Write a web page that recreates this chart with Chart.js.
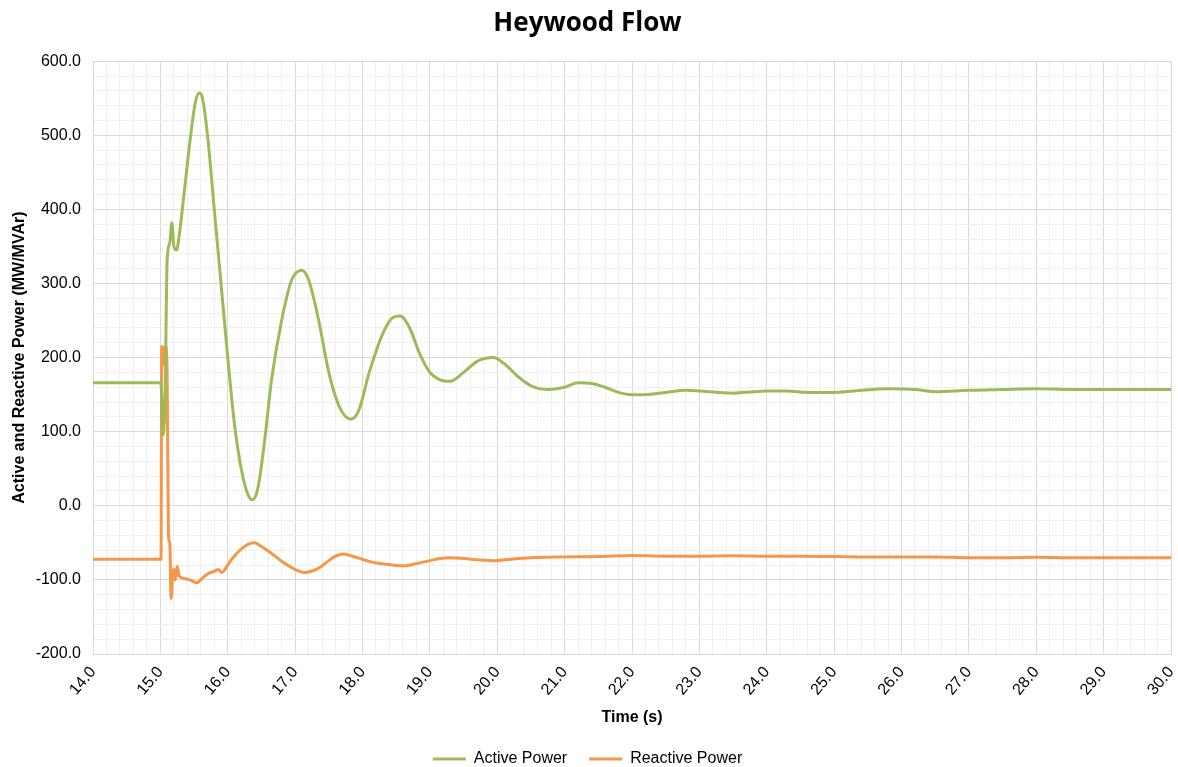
<!DOCTYPE html>
<html>
<head>
<meta charset="utf-8">
<script src="https://cdn.jsdelivr.net/npm/chart.js@4.4.0/dist/chart.umd.min.js"></script>
<style>
    body { margin: 0; background: #fff; }
    #wrap { width: 1178px; height: 767px; }
</style>
</head>
<body>
<div id="wrap"><canvas id="flowChart"></canvas></div>
<script>
// Heywood interconnector flow
var activeTime = [14.0, 14.5, 15.0, 15.02, 15.04, 15.07, 15.10, 15.14, 15.17, 15.20, 15.24, 15.28, 15.35, 15.45, 15.52, 15.58, 15.62, 15.70, 15.80, 15.90, 16.0,
    16.10, 16.20, 16.30, 16.37, 16.45, 16.55, 16.65, 16.80, 16.95, 17.10, 17.20, 17.35, 17.50, 17.65, 17.83, 17.95, 18.10, 18.30, 18.45, 18.56,
    18.70, 18.85, 19.0, 19.15, 19.30, 19.50, 19.70, 19.94, 20.10, 20.30, 20.50, 20.74, 21.0, 21.2, 21.4, 21.6, 21.8, 22.0, 22.2, 22.5, 22.8,
    23.0, 23.3, 23.5, 23.8, 24.0, 24.3, 24.6, 25.0, 25.3, 25.8, 26.2, 26.5, 27.0, 27.5, 28.0, 28.5, 29.0, 29.5, 30.0];
var activePower = [166, 166, 166, 150, 95, 150, 330, 355, 382, 350, 345, 365, 420, 500, 545, 557, 552, 500, 400, 300, 200,
    110, 50, 15, 8, 25, 90, 170, 250, 305, 318, 305, 250, 180, 135, 117, 130, 180, 232, 254, 256,
    240, 205, 180, 170, 168, 180, 195, 200, 192, 175, 162, 157, 160, 166, 165, 160, 153, 150, 150, 153, 156,
    155, 153, 152, 154, 155, 155, 153, 153, 155, 158, 157, 154, 156, 157, 158, 157, 157, 157, 157];

var reactiveTime = [14.0, 14.5, 15.0, 15.01, 15.02, 15.04, 15.06, 15.08, 15.10, 15.12, 15.14, 15.16, 15.18, 15.20, 15.22, 15.25, 15.28, 15.35, 15.44, 15.54,
    15.62, 15.70, 15.81, 15.86, 15.91, 16.0, 16.06, 16.18, 16.30, 16.40, 16.50, 16.63, 16.85, 17.0, 17.15, 17.25, 17.37, 17.50, 17.6, 17.71,
    17.85, 17.96, 18.1, 18.26, 18.45, 18.63, 18.8, 19.0, 19.15, 19.3, 19.5, 19.74, 19.97, 20.2, 20.49, 20.93, 21.5, 22.0, 22.5, 23.0,
    23.5, 24.0, 24.5, 25.0, 25.5, 26.0, 26.5, 27.0, 27.5, 28.0, 28.5, 29.0, 29.5, 30.0];
var reactivePower = [-72, -72, -72, -72, 215, 212, 190, 215, 180, -40, -50, -125, -95, -85, -100, -82, -95, -98, -100, -104,
    -98, -92, -88, -86, -90, -80, -72, -60, -52, -50, -55, -63, -78, -86, -90, -88, -83, -74, -68, -65,
    -68, -71, -75, -78, -80, -81, -78, -74, -71, -70, -71, -73, -74, -72, -70, -69, -68.5, -67, -68, -68,
    -67.5, -68, -68, -68.5, -69, -69, -69, -70, -70, -69.5, -70, -70, -70, -70];

var xMin = 14, xMax = 30;
var yMin = -200, yMax = 600;

function pairs(xs, ys) {
    return xs.map(function (x, i) { return { x: x, y: ys[i] }; });
}
function isWhole(v, step) {
    return Math.abs(v / step - Math.round(v / step)) < 1e-6;
}

var axisFont = { family: 'Liberation Sans, Arial, sans-serif', size: 16 };
var axisTitleFont = { family: 'Liberation Sans, Arial, sans-serif', size: 16, weight: 'bold' };

new Chart(document.getElementById('flowChart').getContext('2d'), {
    type: 'line',
    data: {
        datasets: [{
            label: 'Active Power',
            data: pairs(activeTime, activePower),
            borderColor: '#9BBB59',
            backgroundColor: '#9BBB59',
            borderWidth: 3,
            pointRadius: 0,
            cubicInterpolationMode: 'monotone'
        }, {
            label: 'Reactive Power',
            data: pairs(reactiveTime, reactivePower),
            borderColor: '#F79646',
            backgroundColor: '#F79646',
            borderWidth: 3,
            pointRadius: 0,
            cubicInterpolationMode: 'monotone'
        }]
    },
    options: {
        responsive: true,
        maintainAspectRatio: false,
        animation: false,
        layout: { padding: { left: 4, right: 7, top: 6, bottom: -10 } },
        plugins: {
            title: {
                display: true,
                text: 'Heywood Flow',
                color: '#000',
                font: { family: 'Open Sans, sans-serif', size: 26, weight: 'bold' },
                padding: { top: 2, bottom: 22 }
            },
            legend: {
                position: 'bottom',
                labels: {
                    usePointStyle: true,
                    pointStyle: 'line',
                    pointStyleWidth: 33,
                    color: '#000',
                    padding: 22,
                    font: axisFont
                }
            },
            tooltip: { enabled: false }
        },
        scales: {
            x: {
                type: 'linear',
                min: xMin,
                max: xMax,
                afterFit: function (scale) {
                    scale.height = 75;
                    scale.paddingLeft = 0;
                    scale.paddingRight = 0;
                },
                ticks: {
                    stepSize: 0.2,
                    autoSkip: false,
                    minRotation: 50,
                    maxRotation: 50,
                    color: '#000',
                    font: axisFont,
                    padding: 9,
                    callback: function (v) { return isWhole(v, 1) ? v.toFixed(1) : ''; }
                },
                grid: {
                    drawTicks: false,
                    lineWidth: 1,
                    color: function (c) { return c.tick && isWhole(c.tick.value, 1) ? '#d9d9d9' : '#f0f0f0'; }
                },
                border: { color: '#d9d9d9' },
                title: {
                    display: true,
                    text: 'Time (s)',
                    color: '#000',
                    font: axisTitleFont,
                    padding: { top: 0, bottom: 2 }
                }
            },
            y: {
                min: yMin,
                max: yMax,
                afterFit: function (scale) {
                    scale.width = 89;
                },
                ticks: {
                    stepSize: 20,
                    autoSkip: false,
                    color: '#000',
                    font: axisFont,
                    padding: 12,
                    callback: function (v) { return isWhole(v, 100) ? v.toFixed(1) : ''; }
                },
                grid: {
                    drawTicks: false,
                    lineWidth: 1,
                    color: function (c) { return c.tick && isWhole(c.tick.value, 100) ? '#d9d9d9' : '#f0f0f0'; }
                },
                border: { color: '#d9d9d9' },
                title: {
                    display: true,
                    text: 'Active and Reactive Power (MW/MVAr)',
                    color: '#000',
                    font: axisTitleFont,
                    padding: { top: 6, bottom: 0 }
                }
            }
        }
    }
});
</script>
</body>
</html>
